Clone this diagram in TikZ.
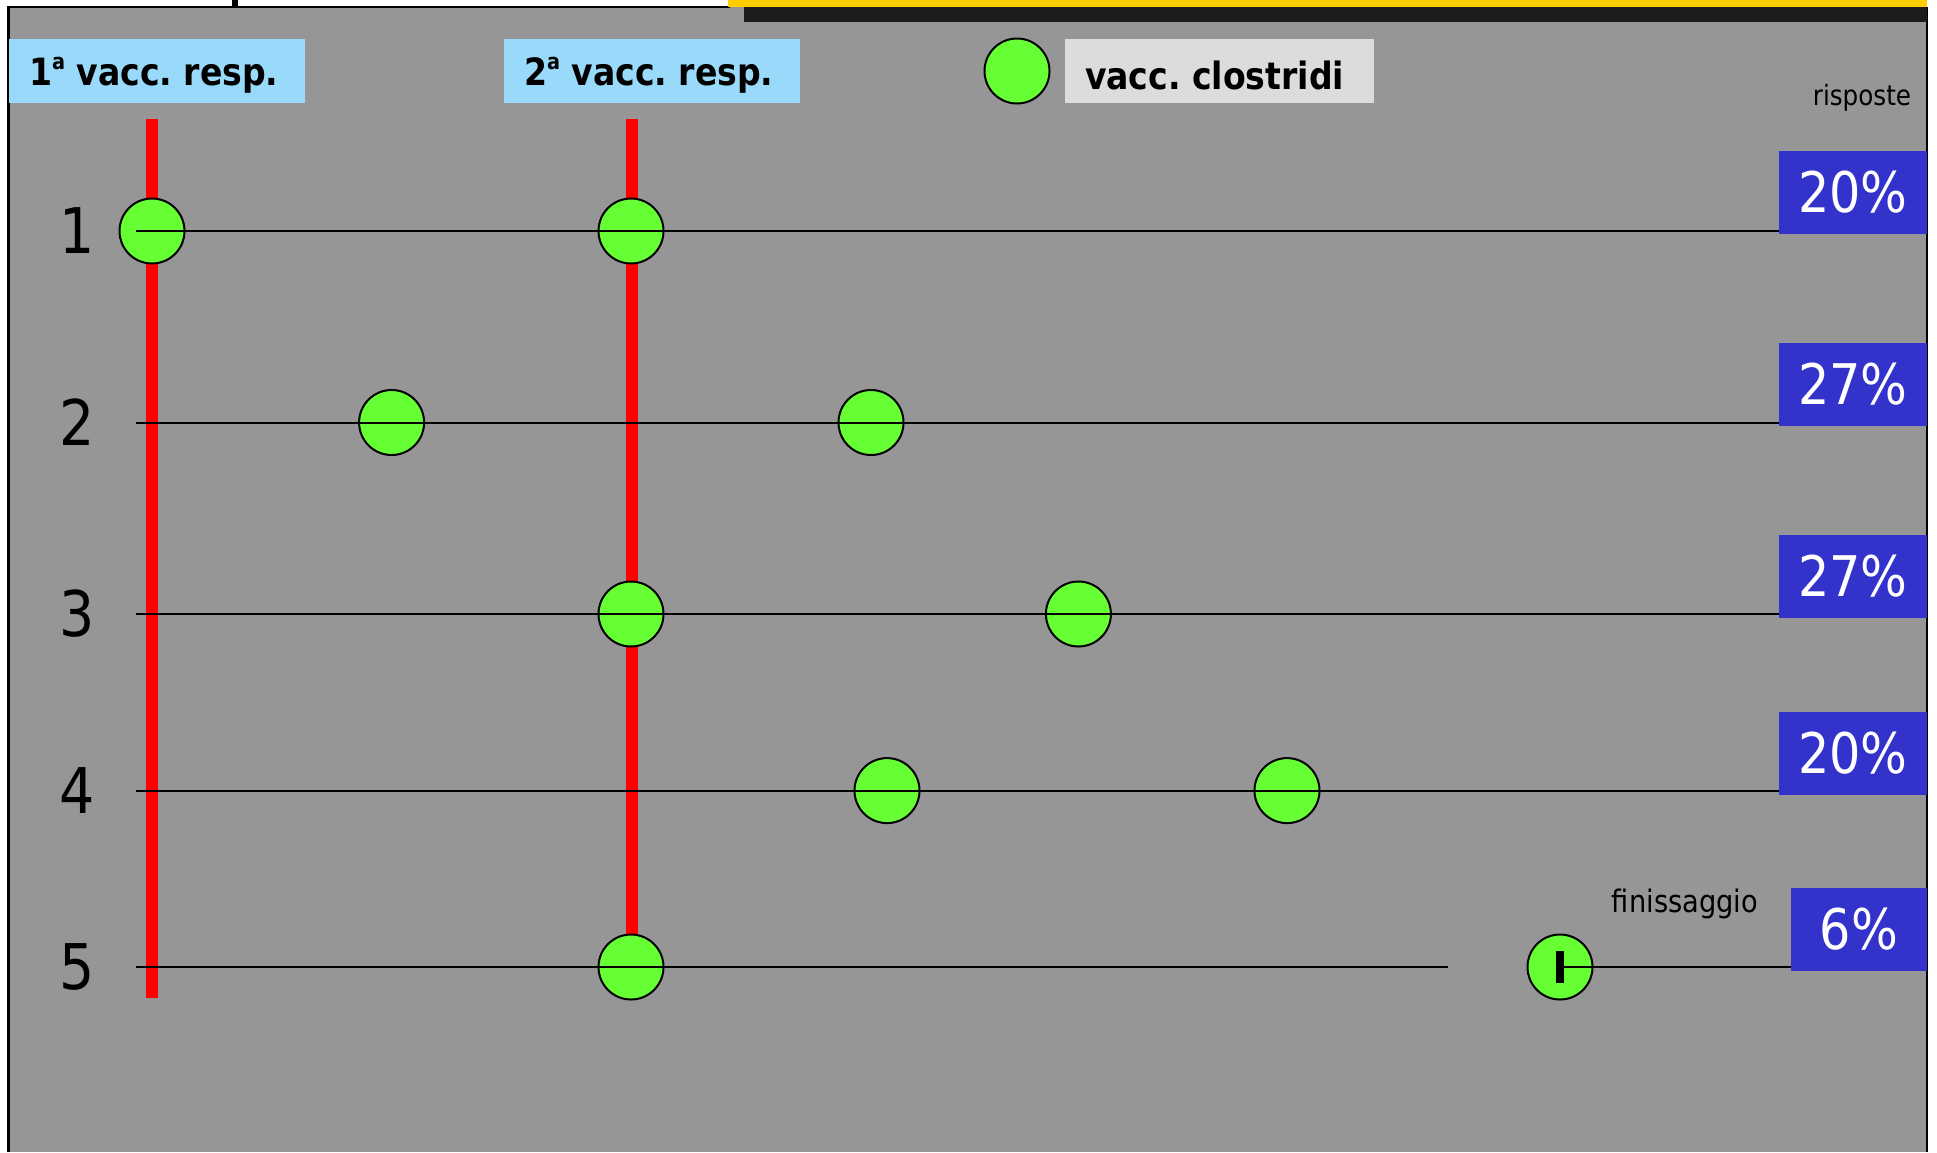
\documentclass[tikz,border=0pt]{standalone}
\usepackage{fontspec}
\setmainfont{DejaVu Sans}[FakeStretch=0.88]
\definecolor{bggray}{RGB}{150,150,150}
\definecolor{lblue}{RGB}{153,217,250}
\definecolor{vgreen}{RGB}{102,255,51}
\definecolor{pblue}{RGB}{51,51,204}
\definecolor{leggray}{RGB}{220,220,220}
\definecolor{topyellow}{RGB}{255,204,0}
\definecolor{topdark}{RGB}{28,28,28}
\newcommand{\supa}{\raisebox{0.42em}{\fontsize{11}{11}\selectfont a}}
\begin{document}
\frenchspacing
\begin{tikzpicture}[x=0.5pt,y=-0.5pt,
  dot/.style={circle, draw=black, line width=1pt, fill=vgreen, minimum size=32.5pt, inner sep=0pt},
  rowline/.style={draw=black, line width=1pt},
  redline/.style={draw=red, line width=6pt},
  pct/.style={fill=pblue, text=white, font=\fontsize{28}{30}\selectfont, minimum width=74pt, minimum height=41.5pt, inner sep=0pt},
  labbox/.style={fill=lblue, minimum width=148pt, minimum height=32pt, inner sep=0pt},
  labtxt/.style={font=\bfseries\fontsize{18.8}{21}\selectfont, inner sep=0pt, anchor=west},
  num/.style={font=\fontsize{31.5}{33}\selectfont, inner sep=0pt},
  small/.style={font=\fontsize{14}{16}\selectfont, inner sep=0pt}
]
\useasboundingbox (0,0) rectangle (1937,1152);
\fill[white] (0,0) rectangle (1937,1152);
\fill[bggray] (7,7) rectangle (1927,1152);
\draw[black, line width=1.5pt] (8,7) -- (8,1152);
\draw[black, line width=1pt] (7,7) -- (730,7);
\draw[black, line width=1pt] (1927,7) -- (1927,1152);
\fill[topyellow] (728,0) rectangle (1927,7);
\fill[topdark] (744,7) rectangle (1927,22);
\fill[black] (232,0) rectangle (238,7);

% header labels
\node[labbox] (lab1) at (157,71) {};
\node[labtxt] (t1) at ([xshift=10pt,yshift=-2pt]lab1.west) {1\supa{} vacc. resp.};
\node[labbox] (lab2) at (652,71) {};
\node[labtxt] (t2) at ([xshift=10pt,yshift=-2pt]lab2.west) {2\supa{} vacc. resp.};
\node[dot] (legdot) at (1017,71) {};
\node[labbox, fill=leggray, minimum width=154.5pt] (legbox) at (1219.5,71) {};
\node[labtxt] (t3) at ([xshift=10pt,yshift=-2pt]legbox.west) {vacc. clostridi};
\node[small] (risp) at (1862,98) {risposte};

% red vertical lines
\coordinate (v1t) at (152,119);
\coordinate (v1b) at (152,998);
\coordinate (v2t) at (632,119);
\coordinate (v2b) at (632,940);
\draw[redline] (v1t) -- (v1b);
\draw[redline] (v2t) -- (v2b);

% circles
\node[dot] (c11) at (152,231) {};
\node[dot] (c12) at (631,231) {};
\node[dot] (c21) at (391.6,422.5) {};
\node[dot] (c22) at (871,422.5) {};
\node[dot] (c31) at (631,614) {};
\node[dot] (c32) at (1078.4,614) {};
\node[dot] (c41) at (887,790.6) {};
\node[dot] (c42) at (1287,790.6) {};
\node[dot] (c51) at (631,967) {};
\node[dot] (c52) at (1560,967) {};

% percentage boxes
\node[pct] (p1) at (1853,192.5) {20\%};
\node[pct] (p2) at (1853,384.5) {27\%};
\node[pct] (p3) at (1853,576.5) {27\%};
\node[pct] (p4) at (1853,753.5) {20\%};
\node[pct, minimum width=68pt] (p5) at (1859,929) {6\%};

% row lines
\coordinate (r1s) at (136,231);
\coordinate (r2s) at (136,422.5);
\coordinate (r3s) at (136,614);
\coordinate (r4s) at (136,790.6);
\coordinate (r5s) at (136,967);
\coordinate (r5e) at (1448,967);
\draw[rowline] (r1s) -- (r1s -| p1.west);
\draw[rowline] (r2s) -- (r2s -| p2.west);
\draw[rowline] (r3s) -- (r3s -| p3.west);
\draw[rowline] (r4s) -- (r4s -| p4.west);
\draw[rowline] (r5s) -- (r5e);
\draw[rowline] (c52.center) -- (c52.center -| p5.west);
\node[fill=black, minimum width=4pt, minimum height=16pt, inner sep=0pt] (bar) at (1560,967) {};

% row numbers
\node[num] (n1) at (77,231) {1};
\node[num] (n2) at (77,422.5) {2};
\node[num] (n3) at (77,614) {3};
\node[num] (n4) at (77,790.6) {4};
\node[num] (n5) at (77,967) {5};

\node[font=\fontsize{15.5}{17}\selectfont, inner sep=0pt] (fin) at (1685,904) {finissaggio};
\end{tikzpicture}
\end{document}
